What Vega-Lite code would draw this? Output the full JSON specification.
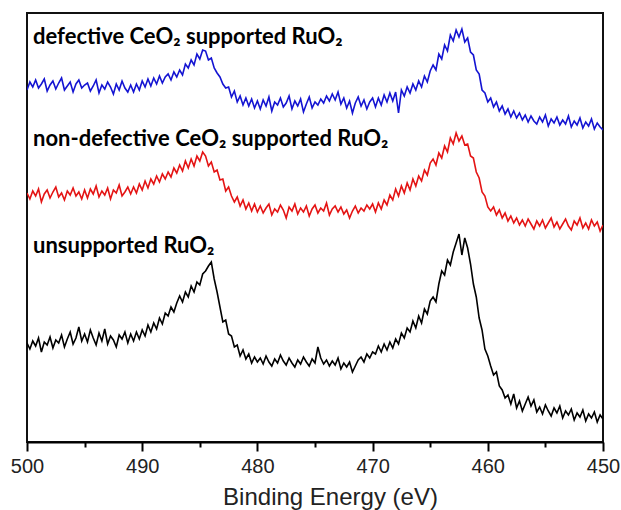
{
"$schema": "https://vega.github.io/schema/vega-lite/v6.json",
"width": 576,
"height": 429,
"autosize": {"type": "none"},
"padding": {"left": 27, "top": 13, "right": 18, "bottom": 68},
"config": {"view": {"stroke": "#111111", "strokeWidth": 2}, "font": "Liberation Sans"},
"layer": [
{
"data": {"values": [
{"e":500,"b":352,"r":249,"k":99},{"e":499.75,"b":360,"r":243,"k":93},{"e":499.5,"b":355,"r":251,"k":101},{"e":499.25,"b":362,"r":246,"k":96},{"e":499,"b":354,"r":253,"k":104},
{"e":498.75,"b":358,"r":240,"k":90},{"e":498.5,"b":363,"r":248,"k":100},{"e":498.25,"b":351,"r":252,"k":97},{"e":498,"b":357,"r":244,"k":105},{"e":497.75,"b":361,"r":250,"k":94},
{"e":497.5,"b":353,"r":255,"k":102},{"e":497.25,"b":359,"r":245,"k":99},{"e":497,"b":364,"r":249,"k":107},{"e":496.75,"b":352,"r":242,"k":95},{"e":496.5,"b":356,"r":251,"k":103},
{"e":496.25,"b":360,"r":247,"k":110},{"e":496,"b":350,"r":254,"k":98},{"e":495.75,"b":358,"r":246,"k":104},{"e":495.5,"b":362,"r":250,"k":115},{"e":495.25,"b":354,"r":243,"k":101},
{"e":495,"b":357,"r":252,"k":108},{"e":494.75,"b":359,"r":244,"k":100},{"e":494.5,"b":351,"r":253,"k":112},{"e":494.25,"b":356,"r":248,"k":104},{"e":494,"b":362,"r":256,"k":97},
{"e":493.75,"b":349,"r":245,"k":109},{"e":493.5,"b":357,"r":251,"k":101},{"e":493.25,"b":353,"r":247,"k":113},{"e":493,"b":360,"r":254,"k":98},{"e":492.75,"b":355,"r":243,"k":106},
{"e":492.5,"b":348,"r":252,"k":102},{"e":492.25,"b":358,"r":249,"k":95},{"e":492,"b":352,"r":257,"k":107},{"e":491.75,"b":361,"r":246,"k":103},{"e":491.5,"b":354,"r":250,"k":110},
{"e":491.25,"b":350,"r":255,"k":99},{"e":491,"b":357,"r":248,"k":108},{"e":490.75,"b":350,"r":255,"k":101},{"e":490.5,"b":358,"r":249,"k":110},{"e":490.25,"b":352,"r":258,"k":103},
{"e":490,"b":361,"r":252,"k":112},{"e":489.75,"b":355,"r":261,"k":106},{"e":489.5,"b":363,"r":254,"k":117},{"e":489.25,"b":356,"r":263,"k":110},{"e":489,"b":364,"r":258,"k":119},
{"e":488.75,"b":358,"r":266,"k":113},{"e":488.5,"b":366,"r":260,"k":124},{"e":488.25,"b":359,"r":268,"k":118},{"e":488,"b":365,"r":263,"k":129},{"e":487.75,"b":368,"r":270,"k":126},
{"e":487.5,"b":362,"r":265,"k":135},{"e":487.25,"b":370,"r":274,"k":130},{"e":487,"b":365,"r":269,"k":139},{"e":486.75,"b":372,"r":277,"k":146},{"e":486.5,"b":367,"r":271,"k":140},
{"e":486.25,"b":378,"r":281,"k":150},{"e":486,"b":374,"r":274,"k":145},{"e":485.75,"b":382,"r":283,"k":156},{"e":485.5,"b":377,"r":276,"k":150},{"e":485.25,"b":388,"r":286,"k":160},
{"e":485,"b":383,"r":281,"k":157},{"e":484.75,"b":392,"r":290,"k":168},{"e":484.5,"b":391,"r":286,"k":171},{"e":484.25,"b":382,"r":276,"k":176},{"e":484,"b":384,"r":280,"k":180},
{"e":483.75,"b":374,"r":270,"k":163},{"e":483.5,"b":369,"r":272,"k":150},{"e":483.25,"b":365,"r":262,"k":135},{"e":483,"b":358,"r":263,"k":120},{"e":482.75,"b":354,"r":251,"k":122},
{"e":482.5,"b":355,"r":255,"k":108},{"e":482.25,"b":345,"r":246,"k":106},{"e":482,"b":351,"r":240,"k":95},{"e":481.75,"b":340,"r":245,"k":97},{"e":481.5,"b":346,"r":236,"k":86},
{"e":481.25,"b":337,"r":242,"k":92},{"e":481,"b":344,"r":233,"k":83},{"e":480.75,"b":336,"r":239,"k":88},{"e":480.5,"b":343,"r":231,"k":79},{"e":480.25,"b":334,"r":238,"k":85},
{"e":480,"b":341,"r":230,"k":80},{"e":479.75,"b":333,"r":236,"k":84},{"e":479.5,"b":342,"r":229,"k":78},{"e":479.25,"b":336,"r":234,"k":86},{"e":479,"b":345,"r":238,"k":80},
{"e":478.75,"b":331,"r":227,"k":76},{"e":478.5,"b":340,"r":233,"k":83},{"e":478.25,"b":337,"r":230,"k":79},{"e":478,"b":344,"r":237,"k":87},{"e":477.75,"b":335,"r":232,"k":81},
{"e":477.5,"b":339,"r":224,"k":77},{"e":477.25,"b":346,"r":235,"k":84},{"e":477,"b":333,"r":231,"k":79},{"e":476.75,"b":341,"r":238,"k":75},{"e":476.5,"b":336,"r":228,"k":82},
{"e":476.25,"b":343,"r":234,"k":78},{"e":476,"b":330,"r":230,"k":85},{"e":475.75,"b":338,"r":236,"k":80},{"e":475.5,"b":345,"r":226,"k":76},{"e":475.25,"b":334,"r":233,"k":83},
{"e":475,"b":340,"r":237,"k":79},{"e":474.75,"b":337,"r":229,"k":95},{"e":474.5,"b":343,"r":234,"k":84},{"e":474.25,"b":339,"r":231,"k":78},{"e":474,"b":346,"r":239,"k":82},
{"e":473.75,"b":341,"r":227,"k":76},{"e":473.5,"b":348,"r":233,"k":81},{"e":473.25,"b":342,"r":236,"k":77},{"e":473,"b":350,"r":230,"k":84},{"e":472.75,"b":338,"r":235,"k":73},
{"e":472.5,"b":344,"r":228,"k":79},{"e":472.25,"b":334,"r":232,"k":75},{"e":472,"b":341,"r":224,"k":80},{"e":471.75,"b":329,"r":231,"k":70},{"e":471.5,"b":339,"r":236,"k":76},
{"e":471.25,"b":345,"r":229,"k":82},{"e":471,"b":336,"r":234,"k":85},{"e":470.75,"b":342,"r":231,"k":80},{"e":470.5,"b":333,"r":237,"k":88},{"e":470.25,"b":340,"r":233,"k":84},
{"e":470,"b":344,"r":238,"k":90},{"e":469.75,"b":335,"r":230,"k":88},{"e":469.5,"b":344,"r":239,"k":96},{"e":469.25,"b":337,"r":233,"k":90},{"e":469,"b":347,"r":242,"k":98},
{"e":468.75,"b":340,"r":237,"k":92},{"e":468.5,"b":349,"r":247,"k":100},{"e":468.25,"b":341,"r":242,"k":94},{"e":468,"b":350,"r":253,"k":103},{"e":467.75,"b":329,"r":246,"k":98},
{"e":467.5,"b":352,"r":256,"k":109},{"e":467.25,"b":346,"r":249,"k":104},{"e":467,"b":355,"r":259,"k":114},{"e":466.75,"b":349,"r":252,"k":110},{"e":466.5,"b":358,"r":263,"k":121},
{"e":466.25,"b":352,"r":256,"k":114},{"e":466,"b":361,"r":266,"k":126},{"e":465.75,"b":355,"r":261,"k":119},{"e":465.5,"b":366,"r":272,"k":133},{"e":465.25,"b":360,"r":267,"k":128},
{"e":465,"b":371,"r":279,"k":141},{"e":464.75,"b":377,"r":283,"k":145},{"e":464.5,"b":372,"r":277,"k":140},{"e":464.25,"b":388,"r":289,"k":158},{"e":464,"b":383,"r":284,"k":171},
{"e":463.75,"b":397,"r":296,"k":167},{"e":463.5,"b":391,"r":290,"k":182},{"e":463.25,"b":407,"r":304,"k":177},{"e":463,"b":401,"r":298,"k":190},{"e":462.75,"b":412,"r":309,"k":199},
{"e":462.5,"b":405,"r":301,"k":208},{"e":462.25,"b":413,"r":306,"k":187},{"e":462,"b":400,"r":297,"k":204},{"e":461.75,"b":404,"r":298,"k":194},{"e":461.5,"b":390,"r":286,"k":178},
{"e":461.25,"b":387,"r":284,"k":158},{"e":461,"b":372,"r":270,"k":145},{"e":460.75,"b":368,"r":264,"k":124},{"e":460.5,"b":352,"r":250,"k":112},{"e":460.25,"b":349,"r":246,"k":93},
{"e":460,"b":340,"r":235,"k":86},{"e":459.75,"b":344,"r":231,"k":76},{"e":459.5,"b":335,"r":235,"k":67},{"e":459.25,"b":340,"r":227,"k":70},{"e":459,"b":331,"r":232,"k":56},
{"e":458.75,"b":336,"r":224,"k":52},{"e":458.5,"b":328,"r":229,"k":44},{"e":458.25,"b":333,"r":221,"k":47},{"e":458,"b":325,"r":226,"k":38},{"e":457.75,"b":331,"r":219,"k":48},
{"e":457.5,"b":324,"r":224,"k":34},{"e":457.25,"b":329,"r":217,"k":41},{"e":457,"b":322,"r":222,"k":31},{"e":456.75,"b":327,"r":216,"k":38},{"e":456.5,"b":320,"r":223,"k":45},
{"e":456.25,"b":326,"r":218,"k":36},{"e":456,"b":321,"r":213,"k":42},{"e":455.75,"b":318,"r":221,"k":30},{"e":455.5,"b":325,"r":216,"k":35},{"e":455.25,"b":320,"r":222,"k":28},
{"e":455,"b":327,"r":214,"k":37},{"e":454.75,"b":316,"r":219,"k":31},{"e":454.5,"b":323,"r":224,"k":26},{"e":454.25,"b":319,"r":215,"k":34},{"e":454,"b":325,"r":220,"k":29},
{"e":453.75,"b":317,"r":213,"k":36},{"e":453.5,"b":322,"r":218,"k":24},{"e":453.25,"b":318,"r":223,"k":31},{"e":453,"b":326,"r":216,"k":27},{"e":452.75,"b":315,"r":212,"k":33},
{"e":452.5,"b":321,"r":221,"k":22},{"e":452.25,"b":317,"r":217,"k":29},{"e":452,"b":324,"r":224,"k":25},{"e":451.75,"b":314,"r":214,"k":32},{"e":451.5,"b":320,"r":219,"k":21},
{"e":451.25,"b":316,"r":213,"k":28},{"e":451,"b":323,"r":222,"k":24},{"e":450.75,"b":313,"r":216,"k":30},{"e":450.5,"b":319,"r":220,"k":20},{"e":450.25,"b":315,"r":211,"k":27},
{"e":450,"b":312,"r":217,"k":23}
]},
"transform": [{"fold": ["b", "r", "k"], "as": ["series", "intensity"]}],
"mark": {"type": "line", "strokeWidth": 1.6, "clip": true},
"encoding": {
"x": {"field": "e", "type": "quantitative", "scale": {"domain": [450, 500], "reverse": true, "nice": false, "zero": false},
"axis": {"values": [500, 490, 480, 470, 460, 450], "orient": "bottom", "format": "d", "grid": false, "tickSize": 9, "tickWidth": 2, "tickColor": "#000000", "domainColor": "#000000", "domainWidth": 2, "labelFontSize": 20, "labelColor": "#222222", "labelPadding": 5, "labelFont": "Liberation Sans", "labelFlush": false, "labelOverlap": false, "title": "Binding Energy (eV)", "titleFont": "Liberation Sans", "titleFontSize": 24, "titleFontWeight": "normal", "titleColor": "#222222", "titlePadding": 9, "titleX": 303, "titleAlign": "center"}},
"y": {"field": "intensity", "type": "quantitative", "scale": {"domain": [0, 429], "nice": false, "zero": false}, "axis": null},
"color": {"field": "series", "type": "nominal", "scale": {"domain": ["b", "r", "k"], "range": ["#1414d2", "#e41414", "#000000"]}, "legend": null}
}
},
{
"data": {"values": [
{"e": 499.48, "y": 398, "label": "defective CeO₂ supported RuO₂"},
{"e": 499.48, "y": 296, "label": "non-defective CeO₂ supported RuO₂"},
{"e": 499.48, "y": 189, "label": "unsupported RuO₂"}
]},
"mark": {"type": "text", "align": "left", "baseline": "alphabetic", "font": "Lato", "fontWeight": "bold", "fontSize": 22, "color": "#000000"},
"encoding": {
"x": {"field": "e", "type": "quantitative", "axis": {"values": [495, 485, 475, 465, 455], "orient": "bottom", "grid": false, "labels": false, "domain": false, "tickSize": 5, "tickWidth": 2, "tickColor": "#000000", "title": null}},
"y": {"field": "y", "type": "quantitative", "axis": null},
"text": {"field": "label"}
}
}
],
"resolve": {"axis": {"x": "independent"}}
}
